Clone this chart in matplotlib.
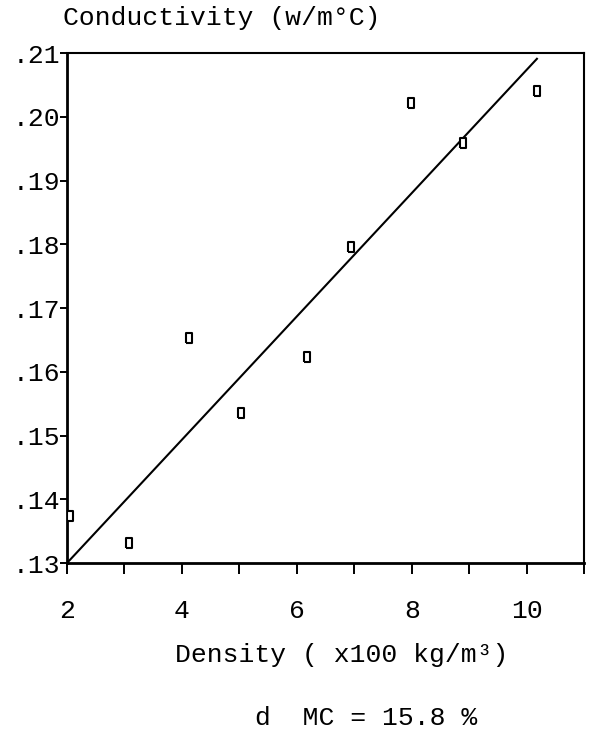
import numpy as np
import matplotlib
matplotlib.use("Agg")
import matplotlib.pyplot as plt

# thermal conductivity vs density, MC = 15.8 %
density = [2.06, 3.08, 4.13, 5.03, 6.18, 6.94, 7.99, 8.89, 10.18]
conductivity = [0.1373, 0.1331, 0.1653, 0.1535, 0.1623, 0.1796, 0.2022, 0.1959, 0.2040]

# fitted line end points
fit_x = [2.0, 10.18]
fit_y = [0.130, 0.2091]

yticks = [0.13, 0.14, 0.15, 0.16, 0.17, 0.18, 0.19, 0.20, 0.21]
ytick_labels = ['.13', '.14', '.15', '.16', '.17', '.18', '.19', '.20', '.21']
xticks = [2, 4, 6, 8, 10]

mono = 'Liberation Mono'
fs = 19

fig = plt.figure(figsize=(5.91, 7.38), dpi=100)
ax = fig.add_axes([0.1134, 0.2371, 0.8748, 0.691])

# tall open square marker
box = [(-0.38, -0.5), (0.38, -0.5), (0.38, 0.5), (-0.38, 0.5), (-0.38, -0.5)]
ax.plot(density, conductivity, linestyle='none', marker=box, markersize=6.5,
        markerfacecolor='white', markeredgecolor='black', markeredgewidth=1.5, zorder=3)
ax.plot(fit_x, fit_y, color='black', lw=1.5, zorder=2)

ax.set_xlim(2, 11)
ax.set_ylim(0.13, 0.21)
ax.set_xticks(range(2, 12))
ax.set_xticklabels([str(t) if t in xticks else '' for t in range(2, 12)],
                   fontsize=fs, family=mono)
ax.set_yticks(yticks)
ax.set_yticklabels(ytick_labels, fontsize=fs, family=mono)

ax.tick_params(axis='x', direction='out', length=8, width=1.4, pad=18)
ax.tick_params(axis='y', direction='out', length=5, width=1.4, pad=0)

for side in ['left', 'bottom']:
    ax.spines[side].set_linewidth(2.0)
for side in ['top', 'right']:
    ax.spines[side].set_linewidth(1.5)

fig.text(0.107, 0.9756, 'Conductivity (w/m\u00b0C)', fontsize=fs, family=mono,
         ha='left', va='center')
fig.text(0.5787, 0.1125, 'Density ( x100 kg/m\u00b3)', fontsize=fs, family=mono,
         ha='center', va='center')
fig.text(0.619, 0.0271, 'd  MC = 15.8 %', fontsize=fs, family=mono,
         ha='center', va='center')

fig.savefig('out.png', dpi=100)
